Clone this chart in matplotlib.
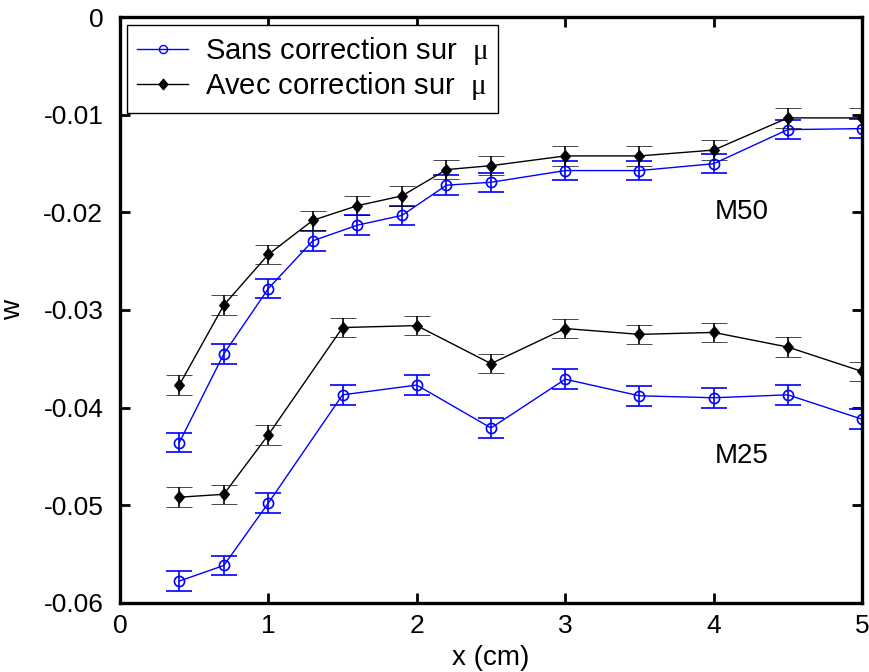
import numpy as np
import matplotlib.pyplot as plt
from matplotlib.path import Path

plt.rcParams['font.family'] = ['Liberation Sans', 'DejaVu Sans']
plt.rcParams['mathtext.fontset'] = 'custom'
plt.rcParams['mathtext.rm'] = 'Liberation Serif'

# M50 series
x50 = [0.4, 0.7, 1.0, 1.3, 1.6, 1.9, 2.2, 2.5, 3.0, 3.5, 4.0, 4.5, 5.0]
sans50 = [-0.0436, -0.0345, -0.0278, -0.0229, -0.0213, -0.0203, -0.0172,
          -0.0169, -0.0157, -0.0157, -0.0150, -0.0115, -0.0114]
avec50 = [-0.0377, -0.0295, -0.0243, -0.0208, -0.0193, -0.0183, -0.0156,
          -0.0152, -0.0142, -0.0142, -0.0136, -0.0103, -0.0103]

# M25 series
x25 = [0.4, 0.7, 1.0, 1.5, 2.0, 2.5, 3.0, 3.5, 4.0, 4.5, 5.0]
sans25 = [-0.0578, -0.0562, -0.0498, -0.0387, -0.0377, -0.0421,
          -0.0371, -0.0388, -0.0390, -0.0387, -0.0412]
avec25 = [-0.0492, -0.0489, -0.0428, -0.0318, -0.0316, -0.0355,
          -0.0319, -0.0325, -0.0323, -0.0338, -0.0363]

err = 0.001

# slightly narrow diamond like the original
diamond = Path([(0, 1), (0.83, 0), (0, -1), (-0.83, 0), (0, 1)],
               [Path.MOVETO, Path.LINETO, Path.LINETO, Path.LINETO, Path.CLOSEPOLY])

fig = plt.figure(figsize=(8.69, 6.72), dpi=100)
ax = fig.add_axes([0.138, 0.1034, 0.854, 0.8706])

blue = '#0000ff'
common = dict(lw=1.0, elinewidth=1.2, capsize=9.5, capthick=1.4)

for xs, ys in [(x50, sans50), (x25, sans25)]:
    ax.errorbar(xs, ys, yerr=err, color=blue, marker='o', ms=7.3,
                mfc='none', mec=blue, mew=1.2, **common)
for xs, ys in [(x50, avec50), (x25, avec25)]:
    ax.errorbar(xs, ys, yerr=err, color='black', marker=diamond, ms=9,
                mfc='black', mec='black', mew=0.5, **common)

# legend handles
h1, = ax.plot([], [], color=blue, marker='o', ms=5.8, mfc='none', mec=blue, lw=1.0)
h2, = ax.plot([], [], color='black', marker=diamond, ms=7.5, lw=1.0)
leg = ax.legend([h1, h2], [r'Sans correction sur  $\mathrm{\mu}\hspace{0.5}$',
                           r'Avec correction sur  $\mathrm{\mu}\hspace{0.5}$'],
                loc='upper left', fontsize=21, frameon=True, fancybox=False,
                edgecolor='black', framealpha=1, handlelength=1.75,
                handletextpad=0.55, borderaxespad=0.25, labelspacing=0.12,
                borderpad=0.35)
leg.get_frame().set_linewidth(1.0)

ax.text(4.01, -0.020, 'M50', fontsize=20, va='center')
ax.text(4.01, -0.045, 'M25', fontsize=20, va='center')

ax.set_xlim(0, 5)
ax.set_ylim(-0.06, 0)
ax.set_xticks([0, 1, 2, 3, 4, 5])
ax.set_yticks([-0.06, -0.05, -0.04, -0.03, -0.02, -0.01, 0])
ax.set_yticklabels(['-0.06', '-0.05', '-0.04', '-0.03', '-0.02', '-0.01', '0'])
ax.tick_params(direction='in', top=True, right=True, labelsize=19,
               length=7, width=2)
ax.tick_params(axis='x', pad=8)
ax.tick_params(axis='y', pad=12)
for s in ax.spines.values():
    s.set_linewidth(2.4)
ax.set_xlabel('x (cm)', fontsize=20, labelpad=5)
ax.set_ylabel('w', fontsize=20)
ax.yaxis.set_label_coords(-0.127, 0.5)

fig.savefig('out.png', dpi=100)
